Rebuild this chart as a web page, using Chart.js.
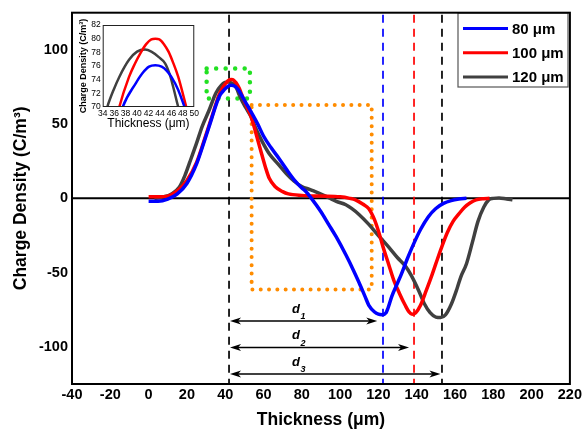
<!DOCTYPE html>
<html>
<head>
<meta charset="utf-8">
<script src="https://cdn.jsdelivr.net/npm/chart.js@4.4.1/dist/chart.umd.min.js"></script>
<style>
  html, body { margin: 0; padding: 0; background: #fff; }
  #wrap { position: relative; width: 584px; height: 431px; }
  #inset { position: absolute; left: 73px; top: 13px; }
</style>
</head>
<body>
<div id="wrap">
  <canvas id="myChart" width="584" height="431"></canvas>
  <canvas id="inset" width="128" height="120"></canvas>
</div>
<script>
// Data-----
const seriesLabels = ['80 μm', '100 μm', '120 μm'];
const seriesColors = ['#0000ff', '#ff0000', '#404040'];

// thickness (μm) / charge density (C/m³)
const x80 = [0, 5, 10, 15, 20, 25, 30, 33, 35.5, 37.5, 39.8, 40.9, 42.1, 43.2, 44.3, 45.2, 46, 47.2, 48.3,
  50.5, 53.6, 57, 60, 64, 68, 72, 76, 80, 82, 85, 90, 94, 98, 103, 107, 110, 113, 115, 118, 120, 122, 124, 125,
  127, 130, 132, 135, 137.6, 142, 146, 150, 154, 158, 162, 166];
const q80 = [-2, -2, -0.5, 3, 10, 23, 42, 54, 64, 70, 73.5, 74.9, 75.9, 76.1, 75.9, 75.3, 74.4, 72.5, 70,
  65, 58, 50, 42, 34, 27, 19.5, 12.5, 7, 4.8, 0, -9, -17.5, -26, -38, -48.5, -57, -66, -72, -76.5, -78, -78.3, -77, -74,
  -66, -57, -51, -41, -33, -21, -12.5, -6.8, -3.4, -1.5, -0.5, 0];

const x100 = [0, 5, 10, 15, 20, 25, 30, 33.3, 35, 36.9, 38.6, 39.6, 40.6, 41.6, 42.5, 43.2, 43.9, 44.7, 45.5, 46.3,
  47.2, 48.6, 50, 53.5, 56, 59, 61, 63, 66, 70, 73, 80, 90, 100, 105, 108, 112, 115, 118, 120, 122.5, 125.5, 128,
  131, 134, 136, 137.6, 139.5, 142, 145, 148, 150, 153, 156, 159, 162, 165, 168, 171, 175, 178];
const q100 = [1, 1, 1.5, 5, 12, 24, 43, 56, 63, 70, 74.4, 76.3, 77.9, 79.2, 79.9, 80, 79.9, 79.2, 78.1, 76.5,
  74.4, 70, 65.5, 55, 44, 30, 21, 13.5, 8, 4.5, 3, 2, 1.5, 1, 0, -1, -4, -7, -14.5, -22, -33, -45, -55,
  -64, -72, -76.5, -78, -77, -72, -62, -51.5, -44, -33, -23, -15.5, -10.5, -6, -3, -1, -0.2, 0];

const x120 = [3, 8, 12, 16, 19, 21.4, 25, 28, 31.8, 34, 34.8, 35.9, 36.9, 38.6, 40, 41.4, 42.5, 43.8, 44.9, 45.7, 46.3,
  47.2, 49, 51, 53.5, 56, 59.4, 63, 68, 72, 76, 80, 84, 87, 90.6, 94, 98, 103, 106, 110, 115, 120, 125.5, 130, 134,
  137, 141, 144, 147, 150, 152.5, 155, 158, 161, 163, 166, 169, 172, 175, 177.6, 180, 183, 187, 190];
const q120 = [0, 1, 3, 7.5, 15.5, 24, 37, 48.5, 60, 67.5, 70, 72.5, 74.4, 76.9, 78.1, 78.4, 78.1, 77.3, 76.4, 74.8, 73,
  70, 65, 60.5, 55, 47, 38, 30, 22.5, 16.5, 11.5, 8, 6, 4.5, 2.5, 0.5, -2, -4.3, -6.8, -11, -17.5, -25, -33, -40, -45.5,
  -51.5, -62, -71, -77, -80, -80.3, -78.5, -71.5, -61, -53, -44, -30, -15.5, -6, -1, 0, 0.3, -0.5, -1];

const xTicks = [-40, -20, 0, 20, 40, 60, 80, 100, 120, 140, 160, 180, 200, 220];
const yTicks = [-100, -50, 0, 50, 100];

// dashed guides at the peak and the three minima
const guideX = [42, 122.4, 138.6, 153.2];
const guideColors = ['#000000', '#0000ff', '#ff0000', '#000000'];

// distance arrows d1..d3
const spanStart = 42;
const spanEnd = [119.4, 136, 152.4];
const spanY = [-82.6, -100.5, -118.3];
const spanNames = ['1', '2', '3'];
const spanLabelX = 77;

// dotted boxes [xmin, xmax, ymin, ymax]
const peakBox = [30.3, 52.9, 67.3, 87.4];
const dipBox = [53.8, 116.5, -61.3, 62.9];
// Data-----

const FONT = '"Liberation Sans", Arial, sans-serif';
const xs = [x80, x100, x120];
const qs = [q80, q100, q120];

function makeDatasets(width) {
    return seriesLabels.map((label, i) => ({
        label: label,
        data: xs[i].map((x, j) => ({x: x, y: qs[i][j]})),
        borderColor: seriesColors[i],
        backgroundColor: seriesColors[i],
        borderWidth: width,
        pointRadius: 0,
        cubicInterpolationMode: 'monotone',
        fill: false
    }));
}

function dottedRect(ctx, x0, y0, x1, y1, color, gap, size) {
    ctx.save();
    ctx.strokeStyle = color;
    ctx.lineWidth = size;
    ctx.lineCap = 'round';
    ctx.setLineDash([0.01, gap]);
    ctx.strokeRect(x0, y0, x1 - x0, y1 - y0);
    ctx.restore();
}

function arrowHead(ctx, x, y, dir) {
    ctx.beginPath();
    ctx.moveTo(x, y);
    ctx.lineTo(x - dir * 11, y - 3.5);
    ctx.lineTo(x - dir * 8, y);
    ctx.lineTo(x - dir * 11, y + 3.5);
    ctx.closePath();
    ctx.fill();
}

// Annotations-----
const annotations = {
    id: 'annotations',
    beforeDatasetsDraw(chart) {
        const {ctx, chartArea: a, scales: {x, y}} = chart;
        ctx.save();
        // zero line
        ctx.strokeStyle = '#000';
        ctx.lineWidth = 2;
        ctx.beginPath();
        ctx.moveTo(a.left, y.getPixelForValue(0));
        ctx.lineTo(a.right, y.getPixelForValue(0));
        ctx.stroke();

        // dashed guides
        ctx.lineWidth = 1.7;
        ctx.setLineDash([8, 6]);
        guideX.forEach((gx, i) => {
            const px = x.getPixelForValue(gx);
            ctx.strokeStyle = guideColors[i];
            ctx.beginPath();
            ctx.moveTo(px, a.top + 2);
            ctx.lineTo(px, a.bottom);
            ctx.stroke();
        });
        ctx.restore();

        dottedRect(ctx, x.getPixelForValue(dipBox[0]), y.getPixelForValue(dipBox[3]),
            x.getPixelForValue(dipBox[1]), y.getPixelForValue(dipBox[2]), '#ff8c00', 8.3, 4);
        dottedRect(ctx, x.getPixelForValue(peakBox[0]), y.getPixelForValue(peakBox[3]),
            x.getPixelForValue(peakBox[1]), y.getPixelForValue(peakBox[2]), '#22e022', 9.5, 4.5);
    },
    afterDatasetsDraw(chart) {
        const {ctx, chartArea: a, scales: {x, y}} = chart;
        ctx.save();
        // distance arrows
        ctx.strokeStyle = '#000';
        ctx.fillStyle = '#000';
        ctx.lineWidth = 1.5;
        spanEnd.forEach((end, i) => {
            const x0 = x.getPixelForValue(spanStart) + 1;
            const x1 = x.getPixelForValue(end);
            const py = y.getPixelForValue(spanY[i]);
            ctx.beginPath();
            ctx.moveTo(x0 + 6, py);
            ctx.lineTo(x1 - 6, py);
            ctx.stroke();
            arrowHead(ctx, x0, py, -1);
            arrowHead(ctx, x1, py, 1);

            const lx = x.getPixelForValue(spanLabelX);
            ctx.font = 'italic bold 13px ' + FONT;
            ctx.textAlign = 'left';
            ctx.textBaseline = 'alphabetic';
            ctx.fillText('d', lx - 4, py - 8.5);
            ctx.font = 'italic bold 9px ' + FONT;
            ctx.fillText(spanNames[i], lx + 4.5, py - 2);
        });

        // legend
        const lx = 458, ly = 13, lw = 110, lh = 74;
        ctx.fillStyle = '#fff';
        ctx.fillRect(lx, ly, lw, lh);
        ctx.strokeStyle = '#555';
        ctx.lineWidth = 1.2;
        ctx.strokeRect(lx, ly, lw, lh);
        chart.data.datasets.forEach((ds, i) => {
            const cy = ly + 15.5 + i * 24.2;
            ctx.strokeStyle = ds.borderColor;
            ctx.lineWidth = 3;
            ctx.beginPath();
            ctx.moveTo(lx + 5, cy);
            ctx.lineTo(lx + 50, cy);
            ctx.stroke();
            ctx.fillStyle = '#000';
            ctx.font = 'bold 15px ' + FONT;
            ctx.textAlign = 'left';
            ctx.textBaseline = 'middle';
            ctx.fillText(ds.label, lx + 54, cy + 1);
        });

        // plot frame
        ctx.strokeStyle = '#000';
        ctx.lineWidth = 2;
        ctx.strokeRect(a.left, a.top, a.right - a.left, a.bottom - a.top);
        ctx.restore();
    }
};
// Annotations-----

const insetFrame = {
    id: 'insetFrame',
    afterDatasetsDraw(chart) {
        const {ctx, chartArea: a} = chart;
        ctx.save();
        ctx.strokeStyle = '#222';
        ctx.lineWidth = 1;
        ctx.strokeRect(a.left + 0.5, a.top + 0.5, a.right - a.left - 1, a.bottom - a.top - 1);
        ctx.restore();
    }
};

// Config-----
const config = {
    type: 'line',
    data: {datasets: makeDatasets(3.5)},
    options: {
        responsive: false,
        animation: false,
        events: [],
        layout: {padding: {top: 12, right: 14, bottom: 0, left: 8}},
        plugins: {legend: {display: false}, tooltip: {enabled: false}},
        scales: {
            x: {
                type: 'linear',
                min: -40,
                max: 220,
                afterBuildTicks: (s) => { s.ticks = xTicks.map(v => ({value: v})); },
                afterFit: (s) => { s.height = 47; },
                ticks: {color: '#000', font: {family: FONT, size: 14.5, weight: 'bold'}, padding: 2, maxRotation: 0, autoSkip: false},
                grid: {display: false, drawTicks: false},
                border: {display: false},
                title: {display: true, text: 'Thickness (μm)', color: '#000',
                    font: {family: FONT, size: 17.5, weight: 'bold'}, padding: {top: 0, bottom: 0}}
            },
            y: {
                type: 'linear',
                min: -125,
                max: 125,
                afterBuildTicks: (s) => { s.ticks = yTicks.map(v => ({value: v})); },
                afterFit: (s) => { s.width = 64; },
                ticks: {color: '#000', font: {family: FONT, size: 14.5, weight: 'bold'}, padding: 4},
                grid: {display: false, drawTicks: false},
                border: {display: false},
                title: {display: true, text: 'Charge Density (C/m³)', color: '#000',
                    font: {family: FONT, size: 17.5, weight: 'bold'}, padding: {top: 3, bottom: 0}}
            }
        }
    },
    plugins: [annotations]
};

const insetConfig = {
    type: 'line',
    data: {datasets: makeDatasets(2.5)},
    options: {
        responsive: false,
        animation: false,
        events: [],
        layout: {padding: {top: 12, right: 4.3, bottom: 0, left: 0}},
        plugins: {legend: {display: false}, tooltip: {enabled: false}},
        scales: {
            x: {
                type: 'linear',
                min: 34,
                max: 50,
                afterFit: (s) => { s.height = 26; },
                ticks: {stepSize: 2, color: '#000', font: {family: FONT, size: 8.5}, padding: 2, maxRotation: 0, autoSkip: false},
                grid: {display: false, drawTicks: false},
                border: {display: false},
                title: {display: true, text: 'Thickness (μm)', color: '#000',
                    font: {family: FONT, size: 12}, padding: {top: 0, bottom: 2.5}}
            },
            y: {
                type: 'linear',
                min: 70,
                max: 82,
                afterFit: (s) => { s.width = 29.7; },
                ticks: {stepSize: 2, color: '#000', font: {family: FONT, size: 8.5}, padding: 2, autoSkip: false},
                grid: {display: false, drawTicks: false},
                border: {display: false},
                title: {display: true, text: 'Charge Density (C/m³)', color: '#000',
                    font: {family: FONT, size: 9, weight: 'bold'}, padding: {top: 5.5, bottom: 0}}
            }
        }
    },
    plugins: [insetFrame]
};
// Config-----

var myChart = new Chart(document.getElementById('myChart'), config);
var insetChart = new Chart(document.getElementById('inset'), insetConfig);
</script>
</body>
</html>
